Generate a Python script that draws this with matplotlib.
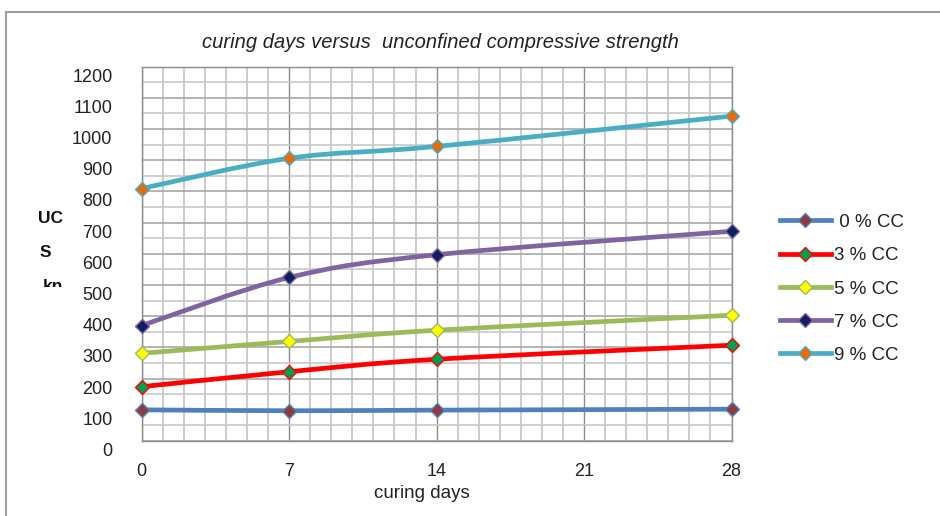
import matplotlib

matplotlib.use("Agg")
import matplotlib.pyplot as plt
from matplotlib.lines import Line2D
from matplotlib.patches import PathPatch
from matplotlib.path import Path
from matplotlib.transforms import Bbox, ScaledTranslation
import numpy as np

plt.rcParams["font.family"] = ["Liberation Sans", "DejaVu Sans"]

# curado (días) y resistencia a compresión no confinada (kPa)
days = [0, 7, 14, 28]
ucs_0 = [100, 97, 99, 102]
ucs_3 = [174, 222, 262, 307]
ucs_5 = [281, 319, 355, 403]
ucs_7 = [370, 524, 597, 672]
ucs_9 = [809, 906, 944, 1041]

series_labels = [" 0 % CC", "3 % CC", "5 % CC", "7 % CC", "9 % CC"]
line_colors = ["#4F81BD", "#FF0000", "#9BBB59", "#8064A2", "#4BACC6"]
marker_colors = ["#8E3B3B", "#00A050", "#FFFF00", "#10205E", "#E46C0A"]

x_ticks = [0, 7, 14, 21, 28]
y_ticks = list(range(0, 1201, 100))


def smooth_path(xs, ys):
    """Curva suavizada tipo Excel: Bezier cúbico con tangentes Catmull-Rom."""
    pts = np.column_stack([xs, ys]).astype(float)
    n = len(pts)
    verts = [pts[0]]
    codes = [Path.MOVETO]
    for i in range(n - 1):
        p0 = pts[i - 1] if i > 0 else pts[i]
        p1, p2 = pts[i], pts[i + 1]
        p3 = pts[i + 2] if i + 2 < n else pts[i + 1]
        c1 = p1 + (p2 - p0) / 6.0
        c2 = p2 - (p3 - p1) / 6.0
        verts += [c1, c2, p2]
        codes += [Path.CURVE4] * 3
    return Path(verts, codes)


fig = plt.figure(figsize=(9.4, 5.16), dpi=100)
ax = fig.add_axes([0.1507, 0.1453, 0.6275, 0.7258])

# rejilla: menor cada día / 50 kPa, mayor cada semana / 100 kPa
for xv in range(0, 29):
    major = xv % 7 == 0
    ax.axvline(xv, color="#8C8C8C" if major else "#C4C4C4",
               lw=1.0 if major else 1.2, zorder=1)
for yv in range(0, 1201, 50):
    major = yv % 100 == 0
    ax.axhline(yv, color="#A8A8A8" if major else "#C8C8C8",
               lw=1.2, zorder=1)

all_series = [ucs_0, ucs_3, ucs_5, ucs_7, ucs_9]
handles = []
for vals, lab, lc, mc in zip(all_series, series_labels, line_colors, marker_colors):
    patch = PathPatch(smooth_path(days, vals), fill=False, edgecolor=lc,
                      lw=3.4, capstyle="round", joinstyle="round", zorder=3)
    patch.set_clip_on(False)
    ax.add_patch(patch)
    ax.plot(days, vals, ls="none", marker="D", ms=7.5, mfc=mc, mec=lc,
            mew=1.0, zorder=4, clip_on=False)
    handles.append(Line2D([], [], color=lc, lw=3.4, marker="D", ms=7.5,
                          mfc=mc, mec=lc, mew=1.0, label=lab))

ax.set_xlim(0, 28)
ax.set_ylim(0, 1200)
ax.set_xticks(x_ticks)
ax.set_yticks(y_ticks)
ax.tick_params(length=0, labelsize=13, colors="#222222")
ax.tick_params(axis="x", pad=16)
ax.tick_params(axis="y", pad=21)
for lab in ax.get_yticklabels():
    lab.set_transform(lab.get_transform()
                      + ScaledTranslation(0, -8.5 / 100, fig.dpi_scale_trans))
for sp in ax.spines.values():
    sp.set_color("#8C8C8C")
    sp.set_linewidth(1.0)

fig.text(0.469, 0.917, "curing days versus  unconfined compressive strength",
         ha="center", va="center", style="italic", fontsize=14.5, color="#222222")
fig.text(0.449, 0.043, "curing days", ha="center", va="center",
         fontsize=13.5, color="#222222")

# rótulo del eje Y partido en líneas, la última recortada
fig.text(0.0404, 0.5775, "UC", ha="left", va="center", fontsize=12.5,
         weight="bold", color="#111111")
fig.text(0.0425, 0.511, "S", ha="left", va="center", fontsize=12.5,
         weight="bold", color="#111111")
kn = fig.text(0.0457, 0.445, "kn", ha="left", va="center", fontsize=12.5,
              weight="bold", color="#111111")
kn.set_clip_box(Bbox([[0, 516 - 287], [940, 516]]))
kn.set_clip_on(True)

fig.legend(handles=handles, loc="center left", bbox_to_anchor=(0.822, 0.440),
           frameon=False, fontsize=13.5, handlelength=2.7, handletextpad=0.15,
           labelspacing=0.86, borderaxespad=0, labelcolor="#222222")

# marco exterior del gráfico
fig.add_artist(Line2D([6 / 940, 6 / 940], [0, 1 - 11.5 / 516],
                      transform=fig.transFigure, color="#A0A0A0", lw=1.5))
fig.add_artist(Line2D([6 / 940, 1], [1 - 11.5 / 516, 1 - 11.5 / 516],
                      transform=fig.transFigure, color="#A0A0A0", lw=1.5))

fig.savefig("out.png", dpi=100, facecolor="white")
